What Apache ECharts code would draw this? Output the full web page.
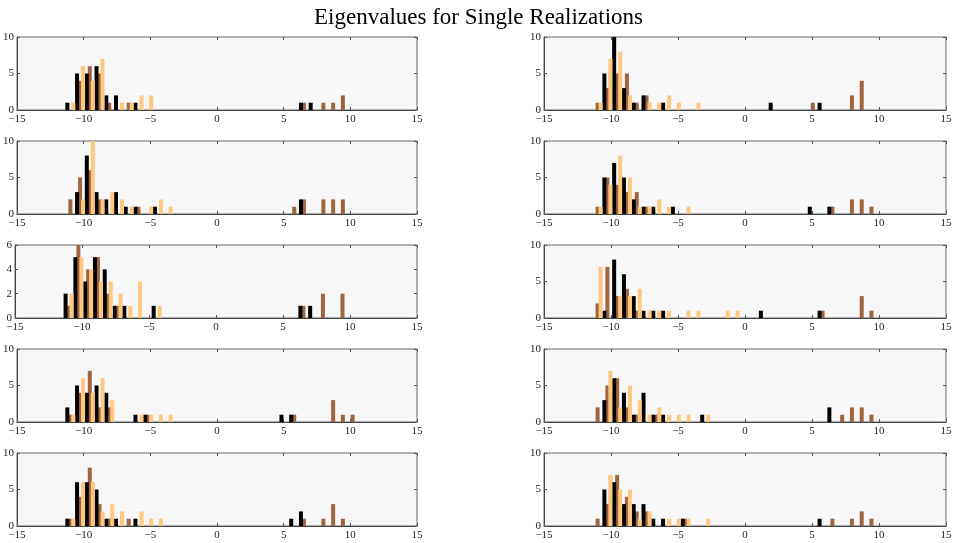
<!DOCTYPE html>
<html>
<head>
<meta charset="utf-8">
<script src="https://cdn.jsdelivr.net/npm/echarts@6/dist/echarts.min.js"></script>
<style>
html, body { margin: 0; padding: 0; background: #fff; }
#chart { width: 957px; height: 543px; }
</style>
</head>
<body>
<div id="chart"></div>
<script>
// histogram bin centres (shared by all realizations)
var binCenters = [-11.0, -10.27, -9.54, -8.81, -8.08, -7.35, -6.62, -5.89, -5.16, -4.43,
                  -3.7, -2.97, -2.24, -1.51, -0.78, -0.05, 0.68, 1.41, 2.14, 2.87,
                  3.6, 4.33, 5.06, 5.79, 6.52, 7.25, 7.98, 8.71, 9.44, 10.17];

// left column, rows 1..5
var r1Black  = [1,5,5,6,2,2,0,1,0,0, 0,0,0,0,0,0,0,0,0,0, 0,0,0,0,1,1,0,0,0,0];
var r1Brown  = [0,4,6,5,1,0,1,0,0,0, 0,0,0,0,0,0,0,0,0,0, 0,0,0,0,1,0,1,1,2,0];
var r1Orange = [1,6,4,7,0,1,1,2,2,0, 0,0,0,0,0,0,0,0,0,0, 0,0,0,0,0,0,0,0,0,0];

var r2Black  = [0,3,8,3,2,3,1,1,0,1, 0,0,0,0,0,0,0,0,0,0, 0,0,0,0,2,0,0,0,0,0];
var r2Brown  = [2,5,6,2,0,0,0,1,0,0, 0,0,0,0,0,0,0,0,0,0, 0,0,0,1,2,0,2,2,2,0];
var r2Orange = [0,2,10,2,3,2,1,0,1,2, 1,0,0,0,0,0,0,0,0,0, 0,0,0,0,0,0,0,0,0,0];

var r3Black  = [2,5,3,5,4,1,1,0,0,1, 0,0,0,0,0,0,0,0,0,0, 0,0,0,0,1,1,0,0,0,0];
var r3Brown  = [1,6,4,5,2,1,0,0,0,0, 0,0,0,0,0,0,0,0,0,0, 0,0,0,0,1,0,2,0,2,0];
var r3Orange = [2,5,4,3,3,2,1,3,0,1, 0,0,0,0,0,0,0,0,0,0, 0,0,0,0,0,0,0,0,0,0];

var r4Black  = [2,5,4,5,4,0,0,1,1,0, 0,0,0,0,0,0,0,0,0,0, 0,0,1,1,0,0,0,0,0,0];
var r4Brown  = [1,4,7,2,2,0,0,0,1,0, 0,0,0,0,0,0,0,0,0,0, 0,0,0,1,0,0,0,3,1,1];
var r4Orange = [1,6,4,6,3,0,0,1,1,1, 1,0,0,0,0,0,0,0,0,0, 0,0,0,0,0,0,0,0,0,0];

var r5Black  = [1,6,6,5,1,1,0,1,0,0, 0,0,0,0,0,0,0,0,0,0, 0,0,0,1,2,0,0,0,0,0];
var r5Brown  = [1,4,8,3,1,0,1,0,0,0, 0,0,0,0,0,0,0,0,0,0, 0,0,0,0,1,0,1,3,1,0];
var r5Orange = [1,6,6,2,3,2,0,2,1,1, 0,0,0,0,0,0,0,0,0,0, 0,0,0,0,0,0,0,0,0,0];

// right column, rows 1..5
var r6Black  = [0,5,10,3,1,2,0,1,0,0, 0,0,0,0,0,0,0,0,1,0, 0,0,0,1,0,0,0,0,0,0];
var r6Brown  = [1,3,5,5,1,2,0,0,0,0, 0,0,0,0,0,0,0,0,0,0, 0,0,1,0,0,0,2,4,0,0];
var r6Orange = [1,7,8,2,0,1,1,2,1,0, 1,0,0,0,0,0,0,0,0,0, 0,0,0,0,0,0,0,0,0,0];

var r7Black  = [0,5,7,5,2,1,1,0,1,0, 0,0,0,0,0,0,0,0,0,0, 0,0,1,0,1,0,0,0,0,0];
var r7Brown  = [1,5,4,3,3,1,0,0,0,0, 0,0,0,0,0,0,0,0,0,0, 0,0,0,0,1,0,2,2,1,0];
var r7Orange = [1,4,8,5,1,1,2,1,0,1, 0,0,0,0,0,0,0,0,0,0, 0,0,0,0,0,0,0,0,0,0];

var r8Black  = [0,1,8,6,3,1,1,1,0,0, 0,0,0,0,0,0,0,1,0,0, 0,0,0,1,0,0,0,0,0,0];
var r8Brown  = [2,7,3,4,1,0,0,0,0,0, 0,0,0,0,0,0,0,0,0,0, 0,0,0,1,0,0,0,3,1,0];
var r8Orange = [7,0,3,3,4,1,1,1,0,1, 1,0,0,1,1,0,0,0,0,0, 0,0,0,0,0,0,0,0,0,0];

var r9Black  = [0,3,6,4,1,4,1,1,0,0, 0,1,0,0,0,0,0,0,0,0, 0,0,0,0,2,0,0,0,0,0];
var r9Brown  = [2,5,6,2,1,0,1,0,0,0, 0,0,0,0,0,0,0,0,0,0, 0,0,0,0,0,1,2,2,1,0];
var r9Orange = [0,7,2,5,3,1,2,1,1,1, 0,1,0,0,0,0,0,0,0,0, 0,0,0,0,0,0,0,0,0,0];

var r10Black  = [0,5,6,3,3,3,1,1,0,1, 0,0,0,0,0,0,0,0,0,0, 0,0,0,1,0,0,0,0,0,0];
var r10Brown  = [1,3,7,4,2,2,0,0,0,1, 0,0,0,0,0,0,0,0,0,0, 0,0,0,0,1,0,1,2,1,0];
var r10Orange = [0,7,5,5,1,2,0,1,1,1, 0,1,0,0,0,0,0,0,0,0, 0,0,0,0,0,0,0,0,0,0];

var panels = [
    [r1Black, r1Brown, r1Orange], [r2Black, r2Brown, r2Orange], [r3Black, r3Brown, r3Orange],
    [r4Black, r4Brown, r4Orange], [r5Black, r5Brown, r5Orange],
    [r6Black, r6Brown, r6Orange], [r7Black, r7Brown, r7Orange], [r8Black, r8Brown, r8Orange],
    [r9Black, r9Brown, r9Orange], [r10Black, r10Brown, r10Orange]
];
var yMax = [10, 10, 6, 10, 10, 10, 10, 10, 10, 10];
var yStep = [5, 5, 2, 5, 5, 5, 5, 5, 5, 5];

// copper colormap, 3 colours
var colors = ['#000000', '#a0643f', '#ffc77f'];
var names = ['black', 'brown', 'orange'];

var font = 'Liberation Serif';
var rowTops = [37, 141, 245, 349, 453];
var colLefts = [15, 544];

function minusSign(v) {
    return String(v).replace('-', '\u2212');
}

var myChart = echarts.init(document.getElementById('chart'));
var grids = [], xAxes = [], yAxes = [], series = [];

panels.forEach(function (p, i) {
    var col = i < 5 ? 0 : 1;
    var row = i % 5;
    grids.push({
        left: colLefts[col], top: rowTops[row], width: 402, height: 73,
        show: true, backgroundColor: '#f7f7f7', borderColor: '#666', borderWidth: 1
    });
    var tick = { show: true, inside: true, length: 3, lineStyle: { color: '#555' } };
    // bottom x axis with labels
    xAxes.push({
        type: 'value', gridIndex: i, min: -15, max: 15, interval: 5, position: 'bottom',
        axisLine: { show: true, onZero: false, lineStyle: { color: '#444' } },
        axisTick: tick, splitLine: { show: false },
        axisLabel: { fontFamily: font, fontSize: 11, color: '#222', margin: 4, formatter: minusSign }
    });
    // top x axis, ticks only
    xAxes.push({
        type: 'value', gridIndex: i, min: -15, max: 15, interval: 5, position: 'top',
        axisLine: { show: false, onZero: false }, axisTick: tick, splitLine: { show: false },
        axisLabel: { show: false }
    });
    yAxes.push({
        type: 'value', gridIndex: i, min: 0, max: yMax[i], interval: yStep[i], position: 'left',
        axisLine: { show: true, onZero: false, lineStyle: { color: '#444' } },
        axisTick: tick, splitLine: { show: false },
        axisLabel: { fontFamily: font, fontSize: 11, color: '#222', margin: 3 }
    });
    yAxes.push({
        type: 'value', gridIndex: i, min: 0, max: yMax[i], interval: yStep[i], position: 'right',
        axisLine: { show: false, onZero: false }, axisTick: tick, splitLine: { show: false },
        axisLabel: { show: false }
    });
    p.forEach(function (counts, s) {
        series.push({
            name: names[s] + i,
            type: 'bar',
            xAxisIndex: i * 2,
            yAxisIndex: i * 2,
            barWidth: 4,
            barGap: '-25%',
            z: s === 1 ? 2 : 3,
            itemStyle: { color: colors[s] },
            data: binCenters.map(function (x, k) {
                return [x, counts[k]];
            })
        });
    });
});

option = {
    animation: false,
    backgroundColor: '#ffffff',
    title: {
        text: 'Eigenvalues for Single Realizations',
        left: 'center',
        top: 1,
        textStyle: { fontFamily: font, fontSize: 23, fontWeight: 'normal', color: '#000' }
    },
    grid: grids,
    xAxis: xAxes,
    yAxis: yAxes,
    series: series
};
myChart.setOption(option);
</script>
</body>
</html>
